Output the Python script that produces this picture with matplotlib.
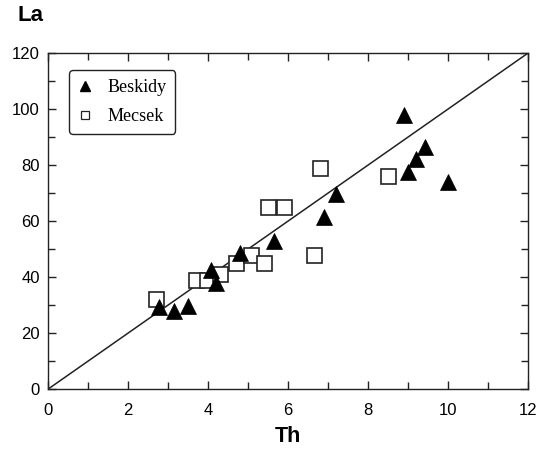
import matplotlib
matplotlib.use('Agg')
import matplotlib.pyplot as plt
import matplotlib.ticker as ticker
from matplotlib.lines import Line2D

plt.rcParams['font.family'] = ['Liberation Sans', 'DejaVu Sans']

# Beskidy (triangles)
besk_th = [2.78, 3.15, 3.5, 4.08, 4.2, 4.8, 5.65, 6.9, 7.2, 8.9, 9.0, 9.2, 9.43, 10.0]
besk_la = [29.3, 28.0, 29.6, 42.5, 38.0, 48.6, 53.0, 61.5, 69.6, 98.0, 77.5, 82.0, 86.5, 74.0]

# Mecsek (squares)
mec_th = [2.7, 3.7, 3.98, 4.3, 4.7, 5.07, 5.4, 5.5, 5.9, 6.65, 6.8, 8.5]
mec_la = [32.0, 39.0, 39.0, 41.0, 45.0, 48.0, 45.0, 65.0, 65.0, 48.0, 79.0, 76.0]

# reference line La/Th = 10
line_x = [0, 12]
line_y = [0, 120]

fig = plt.figure(figsize=(5.4, 4.53), dpi=100)
ax = fig.add_axes([0.089, 0.141, 0.889, 0.742])

ax.plot(line_x, line_y, color='#222222', lw=1.1, zorder=1)
ax.plot(mec_th, mec_la, ls='none', marker='s', ms=10.8, mfc='white',
        mec='#222222', mew=1.2, zorder=2)
ax.plot(besk_th, besk_la, ls='none', marker='^', ms=11.5, mfc='black',
        mec='black', mew=0.5, zorder=3)

ax.set_xlim(0, 12)
ax.set_ylim(0, 120)
ax.xaxis.set_major_locator(ticker.MultipleLocator(2))
ax.xaxis.set_minor_locator(ticker.MultipleLocator(1))
ax.yaxis.set_major_locator(ticker.MultipleLocator(20))
ax.yaxis.set_minor_locator(ticker.MultipleLocator(10))
ax.tick_params(which='both', direction='in', top=True, right=True, labelsize=12,
               width=1.0, color='#222222')
ax.tick_params(which='major', length=6)
ax.tick_params(which='minor', length=5)
ax.tick_params(axis='x', which='major', pad=10)
ax.tick_params(axis='y', which='major', pad=6)
for s in ax.spines.values():
    s.set_linewidth(1.0)
    s.set_color('#222222')

ax.set_xlabel('Th', fontsize=15.5, fontweight='bold', labelpad=6)
fig.text(0.033, 0.965, 'La', fontsize=16, fontweight='bold', ha='left', va='center')

handles = [
    Line2D([], [], ls='none', marker='^', ms=7.2, mfc='black', mec='black'),
    Line2D([], [], ls='none', marker='s', ms=5.2, mfc='white', mec='#222222', mew=0.9),
]
leg = ax.legend(handles, ['Beskidy', 'Mecsek'], loc='upper left',
                bbox_to_anchor=(0.044, 0.949),
                prop={'family': ['Liberation Serif', 'DejaVu Serif'], 'size': 13},
                handletextpad=0.9, borderpad=0.5, labelspacing=0.65,
                handlelength=0.7, borderaxespad=0, fancybox=True, framealpha=1,
                edgecolor='#222222')
leg.get_frame().set_linewidth(1.0)

fig.savefig('out.png', dpi=100)
